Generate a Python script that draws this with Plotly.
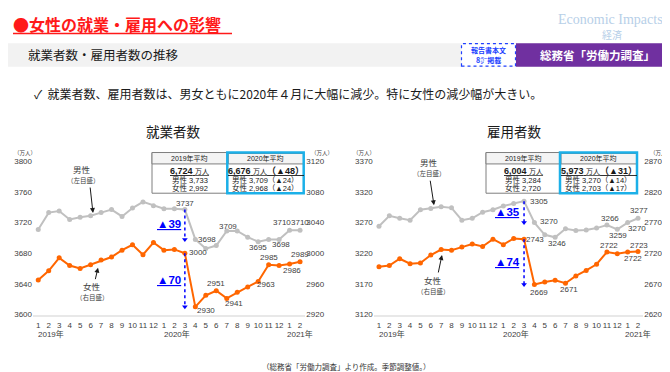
import plotly.graph_objects as go

# ---------------- data ----------------
months = list(range(1, 27))
month_labels = ["1", "2", "3", "4", "5", "6", "7", "8", "9", "10", "11", "12",
                "1", "2", "3", "4", "5", "6", "7", "8", "9", "10", "11", "12",
                "1", "2"]
year_labels = ["2019年", "2020年", "2021年"]

emp_male = [3711, 3733, 3735, 3724, 3727, 3729, 3733, 3737, 3728, 3739, 3747, 3742,
            3738, 3738, 3737, 3698, 3686, 3690, 3709, 3709, 3701, 3695, 3698, 3698,
            3710, 3710]
emp_female = [2965, 2977, 2994, 2984, 2980, 2985, 2991, 2995, 3004, 3011, 2998, 3014,
              3004, 3005, 3000, 2930, 2945, 2951, 2941, 2949, 2956, 2963, 2985, 2984,
              2986, 2989]
wrk_male = [3264, 3281, 3277, 3274, 3291, 3293, 3296, 3294, 3274, 3277, 3287, 3291,
            3297, 3301, 3305, 3270, 3250, 3246, 3260, 3257, 3258, 3261, 3266, 3259,
            3270, 3277]
wrk_female = [2698, 2700, 2711, 2703, 2704, 2717, 2726, 2725, 2730, 2735, 2731, 2743,
              2734, 2744, 2743, 2669, 2673, 2676, 2671, 2683, 2692, 2702, 2722, 2719,
              2722, 2723]

emp_avg_2019 = [6724, 3733, 2992]   # total, male, female
emp_avg_2020 = [6676, 3709, 2968]
wrk_avg_2019 = [6004, 3284, 2720]
wrk_avg_2020 = [5973, 3270, 2703]

emp_left_ticks = [3600, 3640, 3680, 3720, 3760, 3800]
emp_right_ticks = [2920, 2960, 3000, 3040, 3080, 3120]
wrk_left_ticks = [3120, 3170, 3220, 3270, 3320, 3370]
wrk_right_ticks = [2620, 2670, 2720, 2770, 2820, 2870]

# ---------------- styles ----------------
W, H = 670, 372
JP = "Liberation Sans, Noto Sans CJK JP, sans-serif"
CJK = "Noto Sans CJK JP"
GRAY = "#c0c0c0"
ORANGE = "#ff6600"
BLUE = "#0000ff"
LBL = "#404040"
CYAN = "#1cb0e8"


def px(x):
    return x / W


def py(y):
    return 1 - y / H


fig = go.Figure()

charts = [
    dict(x="x", y="y", y2="y2", male=emp_male, female=emp_female,
         lticks=emp_left_ticks, rticks=emp_right_ticks, dom=(25, 297.3)),
    dict(x="x2", y="y3", y2="y4", male=wrk_male, female=wrk_female,
         lticks=wrk_left_ticks, rticks=wrk_right_ticks, dom=(365.8, 635.2)),
]

for c in charts:
    fig.add_trace(go.Scatter(x=months, y=c["male"], mode="lines+markers",
                             line=dict(color=GRAY, width=2),
                             marker=dict(color=GRAY, size=5),
                             xaxis=c["x"], yaxis=c["y"], showlegend=False,
                             hoverinfo="skip"))
    fig.add_trace(go.Scatter(x=months, y=c["female"], mode="lines+markers",
                             line=dict(color=ORANGE, width=2),
                             marker=dict(color=ORANGE, size=5),
                             xaxis=c["x"], yaxis=c["y2"], showlegend=False,
                             hoverinfo="skip"))

# axes
ydom = [py(310), py(153)]
axfont = dict(family=JP, size=8, color="#404040")
for i, c in enumerate(charts):
    xa = "xaxis" if i == 0 else "xaxis2"
    ya = "yaxis" if i == 0 else "yaxis3"
    yb = "yaxis2" if i == 0 else "yaxis4"
    fig.layout[xa] = dict(domain=[px(c["dom"][0]), px(c["dom"][1])], range=[0.5, 26.5],
                          tickvals=months, ticktext=month_labels, tickfont=axfont,
                          tickangle=0,
                          showgrid=False, zeroline=False, showline=True,
                          linecolor="#e8e8e8", linewidth=2, ticks="",
                          anchor=ya.replace("axis", ""), fixedrange=True,
                          ticklabelstandoff=2)
    fig.layout[ya] = dict(domain=ydom, range=[c["lticks"][0], c["lticks"][-1]],
                          tickvals=c["lticks"], tickfont=axfont, showgrid=False,
                          zeroline=False, ticks="", anchor=xa.replace("axis", ""),
                          fixedrange=True)
    fig.layout[yb] = dict(domain=ydom, range=[c["rticks"][0], c["rticks"][-1]],
                          tickvals=c["rticks"], tickfont=axfont, showgrid=False,
                          zeroline=False, ticks="", side="right",
                          overlaying=ya.replace("axis", ""),
                          anchor=xa.replace("axis", ""), fixedrange=True)

annotations = []
shapes = []


def ann(x, y, text, size=9, color="black", xanchor="center", yanchor="middle",
        family=JP, **kw):
    annotations.append(dict(x=px(x), y=py(y), xref="paper", yref="paper", text=text,
                            showarrow=False, xanchor=xanchor, yanchor=yanchor,
                            font=dict(family=family, size=size, color=color), **kw))


# ---------------- header ----------------
ann(3, 12, "<b>●女性の就業・雇用への影響</b>", size=16, color="#ff1a1a", xanchor="left",
    family=CJK)
shapes.append(dict(type="line", xref="paper", yref="paper", x0=px(5), x1=px(224),
                   y0=py(22), y1=py(22), line=dict(color="#ff1a1a", width=1.5)))
ann(602, 8, "Economic Impacts", size=14, color="#b7cfe8",
    family="Liberation Serif, DejaVu Serif, serif")
ann(604, 23.5, "経済", size=10, color="#b7cfe8", family=CJK)

shapes.append(dict(type="rect", xref="paper", yref="paper", x0=0, x1=1,
                   y0=py(56), y1=py(32), fillcolor="#f2f2f2", line=dict(width=0),
                   layer="below"))
ann(18, 44, "就業者数・雇用者数の推移", size=12.5, color="#1a1a1a", xanchor="left",
    family=CJK)
shapes.append(dict(type="rect", xref="paper", yref="paper", x0=px(453.5), x1=px(507.5),
                   y0=py(55.5), y1=py(32.5), fillcolor="white",
                   line=dict(color="#2040ff", width=1.2, dash="dot")))
ann(480.5, 39, "<b>報告書本文</b>", size=7, color="#2040ff", family=CJK)
ann(480.5, 49.5, "<b>8㌻掲載</b>", size=7, color="#2040ff", family=CJK)
shapes.append(dict(type="rect", xref="paper", yref="paper", x0=px(508), x1=1,
                   y0=py(56), y1=py(32), fillcolor="#7030a0", line=dict(width=0)))
ann(589, 44, "<b>総務省「労働力調査」</b>", size=11.5, color="white", family=CJK)

ann(24, 84, "✓  就業者数、雇用者数は、男女ともに2020年４月に大幅に減少。特に女性の減少幅が大きい。",
    size=12, color="#1a1a1a", xanchor="left", family=CJK)

ann(165, 122, "就業者数", size=13.5, color="#1a1a1a", family=CJK)
ann(506, 122, "雇用者数", size=13.5, color="#1a1a1a", family=CJK)

ann(339, 363.5, "（総務省「労働力調査」より作成。季節調整値。）", size=7.5, color="#333333",
    family=CJK)

# unit labels
for xx in (17, 314, 356, 653):
    ann(xx, 144, "（万人）", size=5.5, color="#404040", family=CJK)

# year labels
for i, c in enumerate(charts):
    xr = "x" if i == 0 else "x2"
    for m, lab, xa_, xs in ((1, year_labels[0], "left", -2), (13, year_labels[1], "left", -2),
                            (26, year_labels[2], "center", 0)):
        annotations.append(dict(x=m, y=py(330), xref=xr, yref="paper", text=lab,
                                showarrow=False, xanchor=xa_, yanchor="middle", xshift=xs,
                                font=dict(family=JP, size=8, color="#404040")))

# ---------------- data labels ----------------
# (index, xshift, yshift-down in px)
label_specs = [
    ("x", "y", emp_male, [(14, 0, -6), (15, 12, 0), (18, 1, -5), (21, 0, 6),
                          (23, 2, 5), (24, -8, -8), (25, 0, -8)]),
    ("x", "y2", emp_female, [(14, 13, -1), (15, 11, 4), (17, 0, -7), (18, 7, 5),
                             (21, 8, 3), (22, 0, -7), (24, 2, 7), (25, 0, -7)]),
    ("x2", "y3", wrk_male, [(14, 15, 0), (15, 15, -1), (17, 2, 6), (22, 3, -7),
                            (23, 1, 6), (24, 9, 6), (25, 1, -8)]),
    ("x2", "y4", wrk_female, [(14, 11, 0), (15, 5, 8), (18, 4, 6), (22, 2, -6),
                              (24, 5, 7), (25, 1, -6)]),
]
for xr, yr, series, specs in label_specs:
    for idx, dx, dy in specs:
        annotations.append(dict(x=months[idx], y=series[idx], xref=xr, yref=yr,
                                text=str(series[idx]), showarrow=False,
                                xanchor="center", yanchor="middle",
                                xshift=dx, yshift=-dy,
                                font=dict(family=JP, size=8, color=LBL)))

# ---------------- drop arrows ----------------
drops = [("x", "y", emp_male), ("x", "y2", emp_female),
         ("x2", "y3", wrk_male), ("x2", "y4", wrk_female)]
for xr, yr, series in drops:
    m0, m1 = 14, 15
    v0, v1 = series[m0], series[m1]
    shapes.append(dict(type="line", xref=xr, yref=yr, x0=months[m0], x1=months[m0],
                       y0=v0, y1=v1, line=dict(color=BLUE, width=1.5, dash="dot")))
    fig.add_trace(go.Scatter(x=[months[m0]], y=[v1], mode="markers",
                             marker=dict(symbol="triangle-down", size=5, color=BLUE),
                             xaxis=xr, yaxis=yr, showlegend=False, hoverinfo="skip"))
    annotations.append(dict(x=months[m0], y=(v0 + v1) / 2, xref=xr, yref=yr,
                            text="<b><u>▲%d</u></b>" % (v0 - v1), showarrow=False,
                            xanchor="right", yanchor="middle", xshift=-2,
                            font=dict(family=JP, size=11.5, color=BLUE)))

# ---------------- series notes ----------------
notes = [
    (73.5, 161, 75, 172, "男性", "（左目盛）", (82, 179), (85, 206)),
    (84, 281, 84, 292, "女性", "（右目盛）", (87, 275), (90, 262)),
    (421, 154, 421.5, 165, "男性", "（左目盛）", (422, 172), (426, 198)),
    (425, 275, 425, 286, "女性", "（右目盛）", (430, 268), (434, 249)),
]
for x1, y1, x2, y2, t1, t2, a0, a1 in notes:
    ann(x1, y1, t1, size=8.5, color="#404040", family=CJK)
    ann(x2, y2, t2, size=6.5, color="#404040", family=CJK)
    annotations.append(dict(x=px(a1[0]), y=py(a1[1]), ax=a0[0] - a1[0], ay=a0[1] - a1[1],
                            xref="paper", yref="paper", axref="pixel", ayref="pixel",
                            text="", showarrow=True, arrowhead=2, arrowsize=1,
                            arrowwidth=1, arrowcolor="#1a1a1a"))

# ---------------- average tables ----------------
tables = [((144, 219.3, 295.7), emp_avg_2019, emp_avg_2020),
          ((478, 552, 629), wrk_avg_2019, wrk_avg_2020)]
for (xl, xm, xr_), a19, a20 in tables:
    top, hb, bot = 144, 155.7, 185.7
    shapes.append(dict(type="rect", xref="paper", yref="paper", x0=px(xl), x1=px(xm),
                       y0=py(bot), y1=py(top), fillcolor="white",
                       line=dict(color="#7f7f7f", width=1)))
    shapes.append(dict(type="rect", xref="paper", yref="paper", x0=px(xl), x1=px(xm),
                       y0=py(hb), y1=py(top), fillcolor="#f4f4f4",
                       line=dict(color="#7f7f7f", width=1)))
    shapes.append(dict(type="rect", xref="paper", yref="paper", x0=px(xm + 1), x1=px(xr_),
                       y0=py(hb), y1=py(top + 1), fillcolor="#f4f4f4",
                       line=dict(color="#7f7f7f", width=1)))
    shapes.append(dict(type="rect", xref="paper", yref="paper", x0=px(xm), x1=px(xr_),
                       y0=py(bot), y1=py(top), fillcolor="rgba(0,0,0,0)",
                       line=dict(color=CYAN, width=2.5)))
    c1, c2 = (xl + xm) / 2, (xm + xr_) / 2
    ann(c1, 150, "2019年平均", size=7, color="#1a1a1a")
    ann(c2, 150, "2020年平均", size=7, color="#1a1a1a")
    ann(c1, 163, "<u><b>%s</b> <span style='font-size:7px'>万人</span></u>" % f"{a19[0]:,}",
        size=9, color="#1a1a1a")
    ann(c2, 163, "<u><b>%s</b> <span style='font-size:7px'>万人</span><b>（▲%d）</b></u>"
        % (f"{a20[0]:,}", a19[0] - a20[0]), size=9, color="#1a1a1a")
    ann(c1, 172, "男性 %s" % f"{a19[1]:,}", size=7.5, color="#1a1a1a")
    ann(c1, 180, "女性 %s" % f"{a19[2]:,}", size=7.5, color="#1a1a1a")
    ann(c2, 172, "男性 %s（▲%d）" % (f"{a20[1]:,}", a19[1] - a20[1]), size=7.5, color="#1a1a1a")
    ann(c2, 180, "女性 %s（▲%d）" % (f"{a20[2]:,}", a19[2] - a20[2]), size=7.5, color="#1a1a1a")

fig.update_layout(width=W, height=H, autosize=False,
                  margin=dict(l=0, r=0, t=0, b=0),
                  paper_bgcolor="white", plot_bgcolor="white",
                  annotations=annotations, shapes=shapes, showlegend=False)

fig.write_html("out.html", config={"displayModeBar": False})
